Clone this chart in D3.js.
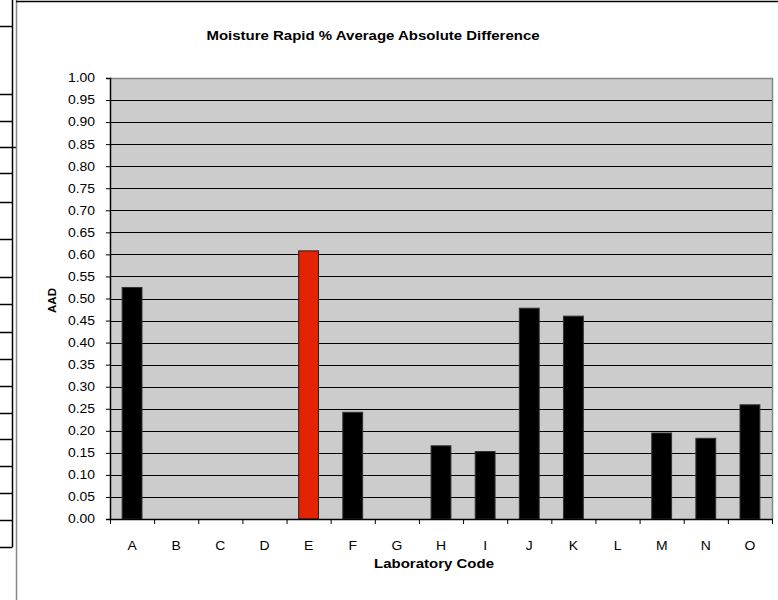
<!DOCTYPE html>
<html>
<head>
<meta charset="utf-8">
<script src="https://cdn.jsdelivr.net/npm/d3@7"></script>
<style>
  body { margin: 0; background: #fff; }
  text { font-family: "Liberation Sans", Arial, sans-serif; }
</style>
</head>
<body>
<div id="chart"></div>
<script>
var labs = ['A','B','C','D','E','F','G','H','I','J','K','L','M','N','O'];
var aad = [0.525, null, null, null, 0.608, 0.242, null, 0.166, 0.153, 0.478, 0.460, null, 0.195, 0.183, 0.259];
var highlight = ['E'];
var yTicks = d3.range(0, 1.0001, 0.05);

// stray table border on the left edge of the page
var sideRows = [26, 94, 121, 147, 173, 202, 239, 277, 304, 332, 359, 386, 413, 439, 466, 493, 520, 547];

var W = 778, H = 600;
var plot = { left: 110, right: 772, top: 78, bottom: 519 };
var sx = 1.16; // the source text is a bit wide

var svg = d3.select('#chart').append('svg')
    .attr('width', W)
    .attr('height', H);

svg.append('rect').attr('width', W).attr('height', H).attr('fill', '#fff');

// left edge leftovers
svg.append('line')
    .attr('x1', 12.5).attr('x2', 12.5).attr('y1', 0).attr('y2', 547)
    .attr('stroke', '#000').attr('stroke-width', 1.5);
svg.selectAll('.siderow')
    .data(sideRows)
    .enter().append('line')
    .attr('x1', 0).attr('x2', (d) => d == 147 ? 16 : 12.5)
    .attr('y1', (d) => d + 0.5).attr('y2', (d) => d + 0.5)
    .attr('stroke', '#000').attr('stroke-width', 1.5);
svg.append('line')
    .attr('x1', 16.5).attr('x2', 16.5).attr('y1', 0).attr('y2', H)
    .attr('stroke', '#888').attr('stroke-width', 1.5);
svg.append('line')
    .attr('x1', 16).attr('x2', W).attr('y1', 1.5).attr('y2', 1.5)
    .attr('stroke', '#000').attr('stroke-width', 1.5);

var x = d3.scaleBand()
    .domain(labs)
    .range([plot.left, plot.right])
    .paddingInner(0.55)
    .paddingOuter(0.275);

var xb = d3.scaleBand().domain(labs).range([plot.left, plot.right]);

var y = d3.scaleLinear()
    .domain([0, 1])
    .range([plot.bottom, plot.top]);

// plot area
svg.append('rect')
    .attr('x', plot.left).attr('y', plot.top)
    .attr('width', plot.right - plot.left)
    .attr('height', plot.bottom - plot.top)
    .attr('fill', '#cccccc');

svg.append('path')
    .attr('d', 'M' + plot.left + ',' + (plot.top + 0.5) + 'H' + (plot.right + 0.5) + 'V' + plot.bottom)
    .attr('fill', 'none').attr('stroke', '#888').attr('stroke-width', 1.5);

// gridlines
svg.append('g')
    .selectAll('line')
    .data(yTicks.filter((d) => d > 0.001 && d < 0.999))
    .enter().append('line')
    .attr('x1', plot.left).attr('x2', plot.right)
    .attr('y1', (d) => Math.round(y(d)) + 0.5)
    .attr('y2', (d) => Math.round(y(d)) + 0.5)
    .attr('stroke', '#000').attr('stroke-width', 1);

// bars
var rows = labs.map((l, i) => ({ lab: l, v: aad[i] })).filter((d) => d.v != null);
svg.selectAll('.bar')
    .data(rows)
    .enter().append('rect')
    .attr('x', (d) => x(d.lab))
    .attr('y', (d) => y(d.v))
    .attr('width', x.bandwidth())
    .attr('height', (d) => plot.bottom - y(d.v))
    .attr('fill', (d) => highlight.includes(d.lab) ? '#e42400' : '#000')
    .attr('stroke', (d) => highlight.includes(d.lab) ? '#222' : '#333')
    .attr('stroke-width', 1);

// y axis
var yAxis = svg.append('g')
    .attr('transform', 'translate(' + plot.left + ',0)')
    .call(d3.axisLeft(y).tickValues(yTicks).tickFormat(d3.format('.2f')).tickSize(4).tickPadding(11));
yAxis.select('.domain').attr('stroke', '#000').attr('stroke-width', 1.5);
yAxis.selectAll('.tick line').attr('stroke', '#000');
yAxis.selectAll('text').attr('font-size', 12).attr('fill', '#000')
    .attr('x', -15 / sx)
    .attr('transform', 'scale(' + sx + ',1)')
    .style('font-family', '"Liberation Sans", Arial, sans-serif');

// x axis
var xAxis = svg.append('g')
    .attr('transform', 'translate(0,' + plot.bottom + ')')
    .call(d3.axisBottom(xb).tickSize(0).tickPadding(22));
xAxis.select('.domain').remove();
xAxis.selectAll('text').attr('font-size', 12).attr('fill', '#000')
    .attr('transform', 'scale(' + sx + ',1)')
    .style('font-family', '"Liberation Sans", Arial, sans-serif');
svg.append('line')
    .attr('x1', plot.left).attr('x2', plot.right + 1)
    .attr('y1', plot.bottom + 0.5).attr('y2', plot.bottom + 0.5)
    .attr('stroke', '#000').attr('stroke-width', 1.5);
svg.append('g')
    .selectAll('line')
    .data(labs.concat(['end']))
    .enter().append('line')
    .attr('x1', (d) => (d == 'end' ? plot.right : xb(d)) + 0.5)
    .attr('x2', (d) => (d == 'end' ? plot.right : xb(d)) + 0.5)
    .attr('y1', plot.bottom).attr('y2', plot.bottom + 5)
    .attr('stroke', '#000');

// titles
svg.append('text')
    .attr('transform', 'translate(373,40) scale(1.2,1)')
    .attr('text-anchor', 'middle')
    .attr('font-size', 12.5).attr('font-weight', 'bold')
    .text('Moisture Rapid % Average Absolute Difference');

svg.append('text')
    .attr('transform', 'translate(434,568) scale(1.2,1)')
    .attr('text-anchor', 'middle')
    .attr('font-size', 12.5).attr('font-weight', 'bold')
    .text('Laboratory Code');

svg.append('text')
    .attr('transform', 'translate(55.5,300.5)rotate(-90)')
    .attr('text-anchor', 'middle')
    .attr('font-size', 11.5).attr('font-weight', 'bold')
    .text('AAD');
</script>
</body>
</html>
